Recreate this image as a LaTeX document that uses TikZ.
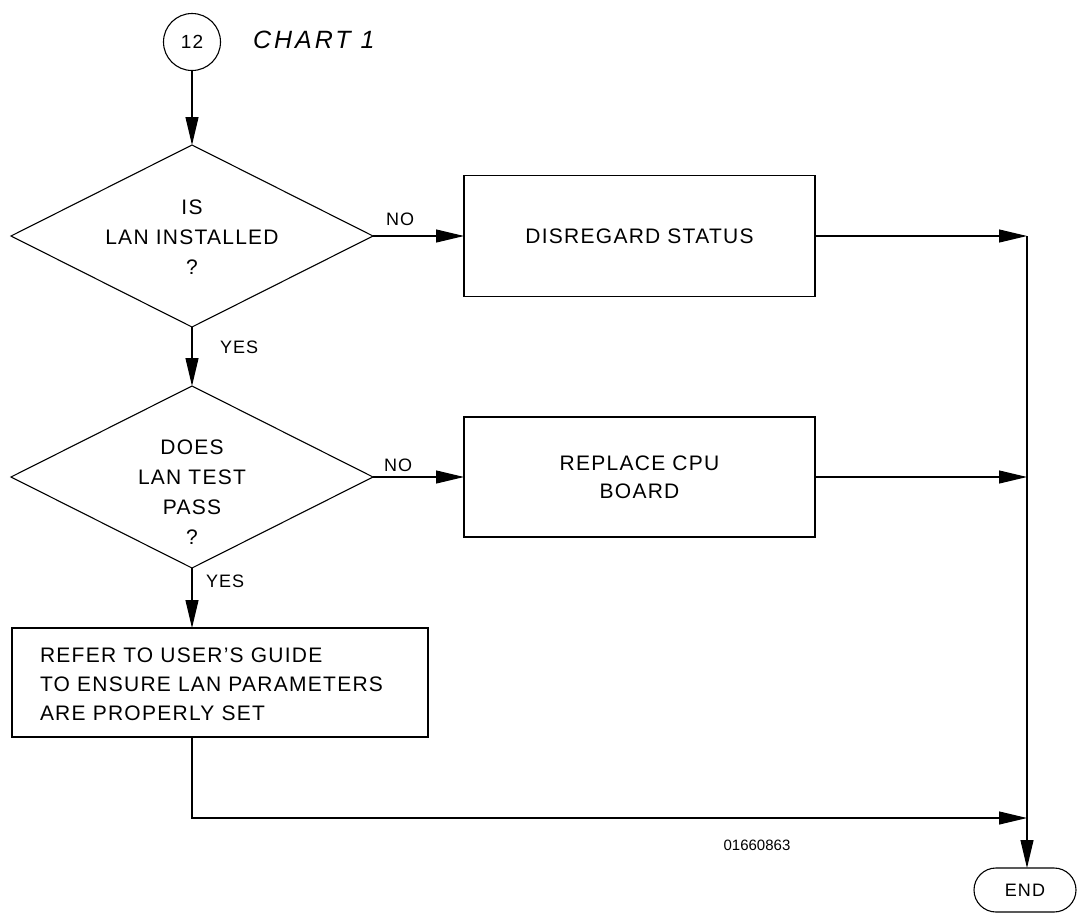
\documentclass[tikz,border=0pt]{standalone}
\usepackage{fontspec}
\setmainfont{Liberation Sans}[LetterSpace=6]
\newfontfamily\titlefont{Liberation Sans}[LetterSpace=12]
\newfontfamily\numfont{Liberation Sans}
\usetikzlibrary{shapes.geometric,arrows.meta}
\begin{document}
\begin{tikzpicture}[x=1pt,y=-1pt,
  line width=1.1pt,
  every node/.style={inner sep=0pt, outer sep=0pt, font=\fontsize{21}{30}\selectfont},
  tip/.style={-{Triangle[length=28pt,width=13pt]}},
  dia/.style={draw, diamond, minimum width=362pt, minimum height=182pt},
  boxx/.style={draw, rectangle},
  lbl/.style={anchor=west, font=\fontsize{18}{20}\selectfont}]
\useasboundingbox (0,0) rectangle (1077,914);

\node[draw, circle, minimum size=57pt] (c12) at (192,42) {\fontsize{19}{19}\selectfont 12};
\node[anchor=west, font=\titlefont\itshape\fontsize{25}{25}\selectfont] (title) at (253,40) {CHART 1};

\node[dia] (d1) at (192,236) {};
\node[align=center] (t1) at (192,237) {IS\\LAN INSTALLED\\?};

\node[dia] (d2) at (192,477) {};
\node[align=center] (t2) at (192,492) {DOES\\LAN TEST\\PASS\\?};

\node[boxx, minimum width=351pt, minimum height=121pt] (b1) at (639.5,236) {DISREGARD STATUS};
\node[boxx, minimum width=351pt, minimum height=120pt, align=center, font=\fontsize{21}{28}\selectfont] (b2) at (639.5,477) {REPLACE CPU\\BOARD};

\node[boxx, minimum width=416pt, minimum height=109pt] (b3) at (220,682.5) {};
\node[anchor=west, align=left, font=\fontsize{21}{29}\selectfont] (t3) at (40,684) {REFER TO USER'S GUIDE\\TO ENSURE LAN PARAMETERS\\ARE PROPERLY SET};

\node[draw, rounded corners=22pt, minimum width=102pt, minimum height=44pt, font=\fontsize{18}{18}\selectfont] (endn) at (1025,890) {END};

\node[lbl] (no1) at (386,219) {NO};
\node[lbl] (no2) at (384,465) {NO};
\node[lbl] (yes1) at (220,347) {YES};
\node[lbl] (yes2) at (206,581) {YES};

\node[font=\numfont\fontsize{15}{15}\selectfont] (code) at (757,845) {01660863};

\coordinate (j1) at (1027,236);
\coordinate (j2) at (1027,477);
\coordinate (j3) at (1027,818);

\draw[tip] (c12.south) -- (d1.north);
\draw[tip] (d1.east) -- (b1.west);
\draw[tip] (d1.south) -- (d2.north);
\draw[tip] (d2.east) -- (b2.west);
\draw[tip] (d2.south) -- (d2.south |- b3.north);
\draw[tip] (b1.east) -- (j1);
\draw[tip] (b2.east) -- (j2);
\draw[tip] (b3.south -| d2.south) |- (j3);
\draw[tip] (j1) -- (j1 |- endn.north);
\end{tikzpicture}
\end{document}
